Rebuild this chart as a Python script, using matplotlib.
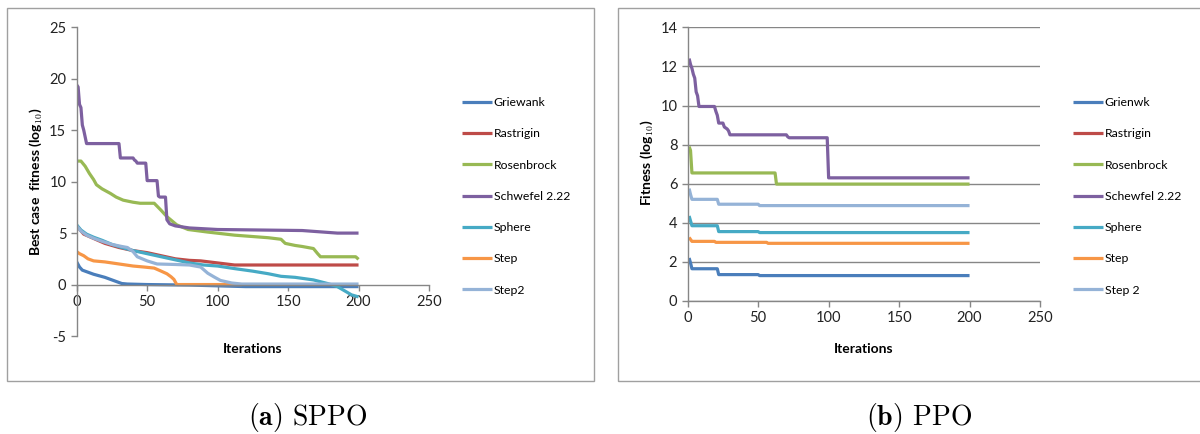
import matplotlib
matplotlib.use("Agg")
from matplotlib import pyplot as plt
from matplotlib.patches import Rectangle

plt.rcParams["axes.unicode_minus"] = False
plt.rcParams["mathtext.fontset"] = "cm"
plt.rcParams["font.family"] = ["Lato", "DejaVu Sans"]

names_a = ["Griewank", "Rastrigin", "Rosenbrock", "Schwefel 2.22", "Sphere", "Step", "Step2"]
names_b = ["Grienwk", "Rastrigin", "Rosenbrock", "Schewfel 2.22", "Sphere", "Step", "Step 2"]
colors = ["#4A7EBB", "#BE4B48", "#98B954", "#7D60A0", "#46AAC5", "#F79646", "#95B3D7"]

# (a) SPPO - iteration breakpoints and best fitness (log10)
griewank_a_x = [0, 2, 4, 8, 12, 16, 20, 24, 28, 32, 36, 50, 80, 120, 200]
griewank_a_y = [2.2, 1.7, 1.4, 1.2, 1.0, 0.85, 0.7, 0.5, 0.3, 0.1, 0.05, 0.0, -0.05, -0.2, -0.2]
rastrigin_a_x = [0, 5, 10, 20, 30, 40, 50, 60, 70, 80, 88, 100, 112, 200]
rastrigin_a_y = [5.7, 4.9, 4.6, 4.0, 3.6, 3.3, 3.1, 2.8, 2.5, 2.35, 2.3, 2.1, 1.9, 1.9]
rosen_a_x = [0, 3, 6, 9, 12, 14, 18, 24, 28, 33, 40, 45, 55, 60, 64, 71, 79, 93, 112, 136, 145, 148, 155, 160, 168, 171, 173, 198, 200]
rosen_a_y = [12.0, 12.0, 11.5, 10.8, 10.2, 9.7, 9.3, 8.85, 8.5, 8.2, 8.0, 7.9, 7.9, 7.2, 6.6, 5.8, 5.35, 5.1, 4.8, 4.55, 4.4, 4.0, 3.8, 3.7, 3.5, 3.0, 2.7, 2.7, 2.45]
schwefel_a_x = [0, 1, 2, 3, 4, 5, 7, 30, 31, 40, 41, 42, 43, 49, 50, 57, 58, 59, 63, 64, 66, 70, 80, 100, 130, 160, 185, 200]
schwefel_a_y = [19.4, 19.2, 17.5, 17.2, 15.5, 15.0, 13.7, 13.7, 12.3, 12.3, 12.1, 12.0, 11.8, 11.8, 10.1, 10.1, 8.6, 8.5, 8.5, 6.3, 5.9, 5.7, 5.5, 5.35, 5.3, 5.25, 5.0, 5.0]
sphere_a_x = [0, 3, 7, 12, 18, 25, 32, 40, 50, 60, 70, 80, 90, 100, 112, 125, 136, 145, 155, 168, 178, 185, 190, 195, 200]
sphere_a_y = [5.8, 5.3, 4.9, 4.6, 4.3, 3.9, 3.6, 3.3, 3.0, 2.7, 2.4, 2.1, 1.9, 1.8, 1.55, 1.3, 1.05, 0.8, 0.7, 0.45, 0.1, -0.2, -0.6, -1.0, -1.2]
step_a_x = [0, 2, 5, 8, 12, 20, 30, 40, 48, 55, 60, 64, 67, 69, 71, 117]
step_a_y = [3.2, 3.0, 2.8, 2.5, 2.3, 2.2, 2.0, 1.8, 1.7, 1.6, 1.3, 1.05, 0.75, 0.5, 0.0, 0.0]
step2_a_x = [0, 3, 7, 12, 18, 25, 32, 36, 40, 43, 50, 57, 70, 80, 88, 93, 98, 102, 110, 117, 200]
step2_a_y = [5.7, 5.2, 4.8, 4.5, 4.2, 3.9, 3.7, 3.6, 3.2, 2.7, 2.3, 2.0, 1.95, 1.9, 1.7, 1.1, 0.7, 0.4, 0.15, 0.05, 0.05]

# (b) PPO
griewank_b_x = [1, 2, 3, 21, 22, 50, 51, 200]
griewank_b_y = [2.2, 1.95, 1.65, 1.65, 1.35, 1.35, 1.3, 1.3]
rastrigin_b_x = []
rastrigin_b_y = []
rosen_b_x = [1, 2, 3, 62, 63, 200]
rosen_b_y = [7.9, 7.7, 6.55, 6.55, 5.98, 5.98]
schwefel_b_x = [1, 2, 3, 4, 5, 6, 7, 8, 19, 20, 21, 22, 25, 26, 27, 28, 29, 30, 70, 71, 72, 99, 100, 200]
schwefel_b_y = [12.4, 12.1, 11.9, 11.6, 11.4, 10.7, 10.5, 9.95, 9.95, 9.7, 9.5, 9.1, 9.1, 8.9, 8.85, 8.8, 8.7, 8.5, 8.5, 8.4, 8.35, 8.35, 6.3, 6.3]
sphere_b_x = [1, 2, 3, 21, 22, 50, 51, 200]
sphere_b_y = [4.35, 4.1, 3.85, 3.85, 3.55, 3.55, 3.5, 3.5]
step_b_x = [1, 2, 3, 19, 20, 22, 56, 57, 200]
step_b_y = [3.25, 3.15, 3.05, 3.05, 3.0, 3.0, 3.0, 2.95, 2.95]
step2_b_x = [1, 2, 3, 21, 22, 50, 51, 200]
step2_b_y = [5.75, 5.45, 5.2, 5.2, 4.95, 4.95, 4.88, 4.88]

series_a = [(griewank_a_x, griewank_a_y), (rastrigin_a_x, rastrigin_a_y), (rosen_a_x, rosen_a_y),
            (schwefel_a_x, schwefel_a_y), (sphere_a_x, sphere_a_y), (step_a_x, step_a_y), (step2_a_x, step2_a_y)]
series_b = [(griewank_b_x, griewank_b_y), (rastrigin_b_x, rastrigin_b_y), (rosen_b_x, rosen_b_y),
            (schwefel_b_x, schwefel_b_y), (sphere_b_x, sphere_b_y), (step_b_x, step_b_y), (step2_b_x, step2_b_y)]

gray = "#868686"
fs = 8.8     # legend
tfs = 10.5   # tick labels
lfs = 10     # axis labels

fig = plt.figure(figsize=(12, 4.34), dpi=100)

# panel frames
fig.patches.append(Rectangle((7 / 1200, 1 - 381 / 434), 587 / 1200, 373 / 434, transform=fig.transFigure,
                             fill=False, edgecolor="#a0a0a0", lw=1))
fig.patches.append(Rectangle((618 / 1200, 1 - 381 / 434), 600 / 1200, 373 / 434, transform=fig.transFigure,
                             fill=False, edgecolor="#a0a0a0", lw=1))


def style(ax):
    for s in ["top", "right"]:
        ax.spines[s].set_visible(False)
    for s in ["left", "bottom"]:
        ax.spines[s].set_color(gray)
        ax.spines[s].set_linewidth(1)
    ax.tick_params(colors=gray, labelcolor="#222222", labelsize=tfs, length=4, width=1, direction="out")
    ax.set_xlim(0, 250)
    ax.set_xticks([0, 50, 100, 150, 200, 250])
    ax.set_facecolor("none")


# (a)
ax1 = fig.add_axes([76.7 / 1200, 1 - 336 / 434, 352.3 / 1200, 308.7 / 434])
for (x, y), c, n in zip(series_a, colors, names_a):
    ax1.plot(x, y, color=c, lw=2.3, label=n, solid_capstyle="butt")
style(ax1)
ax1.set_ylim(-5, 25)
ax1.set_yticks([-5, 0, 5, 10, 15, 20, 25])
ax1.spines["bottom"].set_position(("data", 0))
ax1.set_ylabel("Best case  fitness (log$_{10}$)", fontsize=lfs, fontweight="bold")
ax1.yaxis.set_label_coords(-0.093, 0.5)
ax1.set_xlabel("Iterations", fontsize=lfs, fontweight="bold")
ax1.xaxis.set_label_coords(0.5, -0.022)
ax1.legend(loc="upper left", bbox_to_anchor=(462 / 1200, 1 - 97 / 434), bbox_transform=fig.transFigure,
           frameon=False, fontsize=fs, handlelength=2.45, handletextpad=0.15, labelspacing=1.66,
           borderpad=0, borderaxespad=0)

# (b)
ax2 = fig.add_axes([687.7 / 1200, 1 - 301 / 434, 352.3 / 1200, 273.7 / 434])
for (x, y), c, n in zip(series_b, colors, names_b):
    ax2.plot(x, y, color=c, lw=2.3, label=n, solid_capstyle="butt")
style(ax2)
ax2.set_ylim(0, 14)
ax2.set_yticks([0, 2, 4, 6, 8, 10, 12, 14])
ax2.yaxis.grid(True, color=gray, lw=1)
ax2.set_axisbelow(True)
ax2.set_ylabel("Fitness (log$_{10}$)", fontsize=lfs, fontweight="bold")
ax2.yaxis.set_label_coords(-0.093, 0.504)
ax2.set_xlabel("Iterations", fontsize=lfs, fontweight="bold")
ax2.xaxis.set_label_coords(0.5, -0.152)
ax2.legend(loc="upper left", bbox_to_anchor=(1073 / 1200, 1 - 97 / 434), bbox_transform=fig.transFigure,
           frameon=False, fontsize=fs, handlelength=2.45, handletextpad=0.15, labelspacing=1.66,
           borderpad=0, borderaxespad=0)

# captions
fig.text(308 / 1200, 1 - 417 / 434, r"$\mathbf{(a)}$ SPPO", family="cmr10", fontsize=20, ha="center", va="center")
fig.text(919 / 1200, 1 - 417 / 434, r"$\mathbf{(b)}$ PPO", family="cmr10", fontsize=20, ha="center", va="center")

fig.savefig("out.png", dpi=100)
